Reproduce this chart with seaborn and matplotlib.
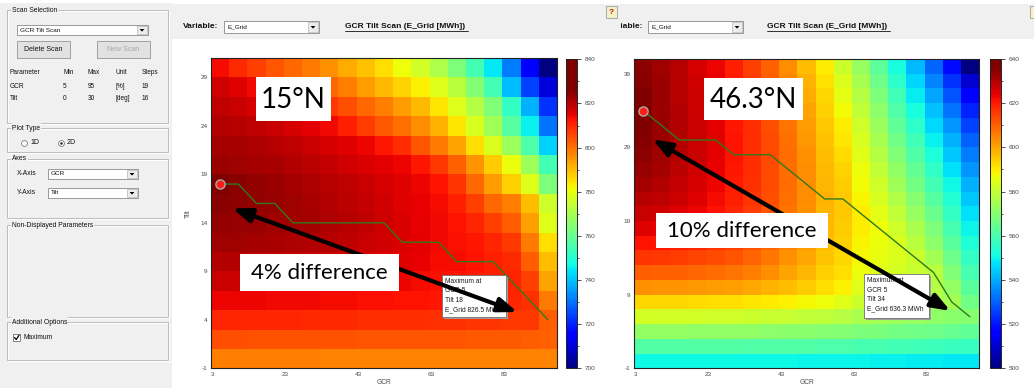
import numpy as np
import pandas as pd
import matplotlib
matplotlib.use("Agg")
import matplotlib.pyplot as plt
from matplotlib.patches import Rectangle, FancyArrowPatch, Polygon
from matplotlib.lines import Line2D
from matplotlib.transforms import Bbox
import seaborn as sns

sns.set_style("white")
plt.rcParams["font.family"] = ["Liberation Sans", "DejaVu Sans"]

# ---------------------------------------------------------------- data
gcr = [5, 10, 15, 20, 25, 30, 35, 40, 45, 50, 55, 60, 65, 70, 75, 80, 85, 90, 95]

# 15 deg N site: yearly grid energy [MWh], rows = tilt from 30 down to 0
tilt_15n = [30, 28, 26, 24, 22, 20, 18, 16, 14, 12, 10, 8, 6, 4, 2, 0]
egrid_15n = [
    [813.2, 809.4, 806.3, 803.7, 801.2, 798.7, 795.5, 792.3, 789.2, 785.4, 781.0, 776.5, 770.8, 763.3, 754.4, 744.9, 731.6, 715.2, 700.0],
    [817.6, 815.7, 813.9, 810.7, 807.5, 804.4, 801.2, 798.0, 794.2, 790.4, 786.7, 782.9, 778.4, 772.7, 764.5, 754.4, 739.2, 724.0, 710.1],
    [819.5, 818.3, 817.0, 815.4, 813.9, 810.7, 807.5, 804.4, 801.2, 798.0, 794.2, 790.4, 784.1, 778.4, 772.1, 763.9, 751.9, 738.0, 722.1],
    [820.8, 820.2, 819.3, 818.3, 817.0, 815.5, 813.9, 810.7, 806.9, 803.1, 799.9, 796.1, 791.1, 784.1, 777.2, 768.9, 757.6, 745.5, 730.4],
    [822.1, 821.7, 821.1, 820.2, 819.3, 818.3, 817.0, 815.7, 814.5, 812.0, 808.8, 803.7, 798.7, 793.0, 785.4, 777.8, 768.3, 756.3, 741.7],
    [823.3, 823.0, 822.5, 821.7, 820.8, 819.9, 818.9, 817.6, 816.4, 815.4, 814.5, 812.0, 807.5, 801.8, 794.9, 787.9, 780.3, 768.3, 754.4],
    [826.5, 825.2, 824.2, 823.3, 822.5, 821.4, 820.4, 819.4, 818.3, 817.0, 815.7, 814.5, 812.6, 808.2, 801.2, 794.2, 787.3, 778.4, 763.3],
    [825.2, 824.6, 824.5, 823.7, 822.7, 821.8, 820.8, 819.8, 818.7, 817.4, 816.1, 814.7, 813.2, 810.7, 806.3, 801.2, 798.0, 789.8, 775.9],
    [824.2, 824.0, 823.7, 823.0, 823.0, 822.2, 821.2, 820.2, 819.2, 817.9, 816.4, 815.1, 813.9, 812.6, 810.1, 806.3, 802.5, 793.6, 778.4],
    [823.0, 822.7, 822.3, 821.8, 821.4, 820.9, 820.2, 819.4, 818.5, 817.5, 816.6, 815.4, 814.1, 812.8, 811.8, 809.8, 807.5, 798.7, 785.4],
    [820.8, 820.6, 820.2, 819.8, 819.4, 818.9, 818.3, 817.6, 817.0, 816.4, 815.7, 814.7, 813.6, 813.2, 812.3, 811.1, 809.4, 802.5, 789.8],
    [818.3, 818.0, 817.8, 817.5, 817.1, 816.8, 816.4, 815.9, 815.4, 814.9, 814.2, 813.6, 812.8, 812.2, 811.6, 810.7, 810.3, 806.3, 793.0],
    [814.5, 814.4, 814.2, 814.1, 814.0, 813.9, 813.6, 813.3, 813.1, 812.8, 812.6, 812.2, 811.8, 811.3, 810.8, 810.3, 809.8, 808.5, 798.7],
    [810.1, 810.1, 809.9, 809.8, 809.7, 809.5, 809.4, 809.3, 809.2, 809.0, 808.9, 808.8, 808.5, 808.3, 808.0, 807.8, 807.5, 807.3, 802.7],
    [804.4, 804.4, 804.2, 804.1, 804.1, 804.0, 804.0, 803.9, 803.7, 803.7, 803.6, 803.5, 803.5, 803.4, 803.2, 803.1, 802.8, 802.7, 801.8],
    [798.0, 798.0, 798.0, 797.9, 797.9, 797.9, 797.8, 797.8, 797.8, 797.7, 797.7, 797.7, 797.5, 797.5, 797.5, 797.4, 797.4, 797.4, 797.4],
]
opt_tilt_15n = [18, 18, 16, 16, 14, 14, 14, 14, 14, 14, 12, 12, 12, 10, 10, 10, 8, 6, 4]
best_15n = {"gcr": 5, "tilt": 18, "egrid": 826.5}

# 46.3 deg N site, rows = tilt from 40 down to 0
tilt_46n = [40, 38, 36, 34, 32, 30, 28, 26, 24, 22, 20, 18, 16, 14, 12, 10, 8, 6, 4, 2, 0]
egrid_46n = [
    [634.4, 632.3, 629.5, 626.0, 623.2, 619.7, 614.8, 609.9, 603.6, 596.6, 589.6, 581.2, 572.8, 563.0, 551.8, 542.0, 530.8, 518.2, 500.0],
    [635.1, 632.7, 629.8, 626.4, 623.6, 620.1, 615.5, 610.7, 604.7, 598.0, 591.3, 583.6, 575.2, 565.8, 555.0, 545.5, 535.0, 523.8, 509.8],
    [635.8, 633.0, 629.9, 626.8, 624.0, 620.4, 616.2, 611.6, 605.8, 599.3, 592.8, 585.7, 577.4, 568.5, 558.1, 548.9, 538.9, 528.7, 516.1],
    [636.3, 633.1, 630.1, 627.1, 624.3, 620.7, 616.8, 612.3, 606.7, 600.4, 594.1, 587.6, 579.5, 571.0, 561.0, 552.1, 542.6, 533.0, 521.3],
    [636.1, 633.3, 630.1, 627.3, 624.5, 620.8, 617.2, 612.8, 607.4, 601.4, 595.2, 589.5, 581.5, 573.4, 563.8, 555.2, 546.1, 537.0, 525.9],
    [635.5, 633.0, 630.2, 627.4, 624.6, 621.0, 617.5, 613.3, 607.9, 602.2, 596.2, 591.0, 583.3, 575.6, 566.5, 558.1, 549.4, 540.6, 530.0],
    [634.7, 632.4, 629.9, 627.3, 624.5, 621.1, 617.6, 613.4, 608.4, 602.9, 596.9, 592.4, 585.0, 577.7, 569.2, 561.0, 552.6, 544.0, 533.7],
    [633.4, 631.6, 629.2, 626.7, 624.0, 620.8, 617.5, 613.3, 608.5, 603.3, 597.4, 593.5, 586.5, 579.7, 571.8, 564.0, 555.9, 547.2, 537.2],
    [631.9, 630.3, 628.2, 625.9, 623.3, 620.3, 617.0, 613.0, 608.4, 603.6, 597.9, 594.5, 587.8, 581.5, 574.5, 566.9, 558.9, 550.3, 540.6],
    [629.9, 628.7, 626.8, 624.6, 622.4, 619.4, 616.3, 612.4, 607.9, 603.5, 598.0, 595.2, 588.8, 583.4, 577.1, 569.9, 562.0, 553.3, 543.8],
    [627.7, 626.6, 625.0, 623.1, 621.0, 618.3, 615.4, 611.6, 607.2, 603.0, 597.9, 595.1, 589.6, 585.3, 579.5, 572.8, 565.1, 556.4, 546.9],
    [624.9, 624.0, 622.8, 621.0, 619.1, 616.8, 614.1, 610.5, 606.3, 602.3, 597.4, 594.6, 589.5, 586.8, 581.9, 575.7, 568.2, 559.5, 550.0],
    [621.2, 620.5, 619.6, 618.2, 616.6, 614.7, 612.3, 608.9, 605.0, 601.4, 596.7, 593.9, 588.9, 586.5, 584.0, 578.5, 571.3, 562.6, 553.1],
    [616.5, 615.9, 615.2, 614.2, 613.1, 611.6, 609.6, 606.7, 603.2, 599.8, 595.6, 593.0, 587.9, 585.8, 583.6, 581.2, 574.9, 565.8, 556.1],
    [610.6, 610.2, 609.8, 609.1, 608.2, 607.1, 605.7, 603.5, 600.5, 597.7, 594.1, 591.6, 586.4, 584.6, 582.6, 580.8, 578.4, 569.2, 559.4],
    [602.9, 602.6, 602.3, 601.9, 601.4, 600.7, 599.7, 598.3, 596.5, 594.4, 591.7, 589.3, 584.3, 582.6, 580.9, 579.4, 577.7, 572.1, 562.7],
    [593.1, 592.8, 592.7, 592.4, 592.0, 591.6, 591.0, 590.3, 589.3, 588.2, 586.8, 585.1, 581.2, 579.5, 578.0, 576.7, 576.3, 574.9, 566.4],
    [582.6, 582.5, 582.3, 582.2, 581.9, 581.6, 581.3, 580.9, 580.4, 579.8, 579.1, 578.1, 575.7, 574.6, 573.5, 572.5, 571.7, 570.7, 570.0],
    [572.1, 572.0, 572.0, 571.8, 571.7, 571.5, 571.4, 571.1, 570.8, 570.6, 570.1, 569.7, 568.6, 567.8, 566.9, 566.2, 565.7, 564.7, 563.7],
    [561.6, 561.6, 561.6, 561.5, 561.5, 561.3, 561.2, 561.0, 560.9, 560.8, 560.5, 560.2, 559.6, 559.2, 558.8, 558.4, 558.0, 557.4, 556.7],
    [550.4, 550.4, 550.4, 550.4, 550.4, 550.3, 550.3, 550.1, 550.1, 550.0, 549.8, 549.7, 549.6, 549.3, 549.0, 548.9, 548.7, 548.4, 548.0],
]
opt_tilt_46n = [34, 32, 30, 30, 30, 28, 28, 28, 26, 24, 22, 22, 20, 18, 16, 14, 12, 8, 6]
best_46n = {"gcr": 5, "tilt": 34, "egrid": 636.3}

gcr_ticks = [3, 23, 43, 63, 83]
gcr_minor = [13, 33, 53, 73, 93]
tilt_ticks_15n = [-1, 4, 9, 14, 19, 24, 29]
tilt_minor_15n = [1.5, 6.5, 11.5, 16.5, 21.5, 26.5]
tilt_ticks_46n = [-1, 9, 19, 29, 39]
tilt_minor_46n = [4, 14, 24, 34]
cbar_ticks_15n = [700, 720, 740, 760, 780, 800, 820, 840]
cbar_ticks_46n = [500, 520, 540, 560, 580, 600, 620, 640]

# ---------------------------------------------------------------- figure
W, H = 1034, 388
fig = plt.figure(figsize=(W / 100, H / 100), dpi=100)
fig.patch.set_facecolor("white")
FT = fig.transFigure
UI_BG = "#f0f0f0"
SLIDE_FONT = ["Lato", "DejaVu Sans"]


def fxy(x, y):
    return x / W, 1 - y / H


def frect(x0, y0, x1, y1):
    return [x0 / W, 1 - y1 / H, (x1 - x0) / W, (y1 - y0) / H]


def rect(x0, y0, x1, y1, fc, ec="none", lw=0.8, z=-1, host=None):
    r = Rectangle(fxy(x0, y1), (x1 - x0) / W, (y1 - y0) / H, transform=FT,
                  facecolor=fc, edgecolor=ec, linewidth=lw, zorder=z)
    (host or fig).add_artist(r)
    return r


def hline(x0, x1, y, color, lw=0.8, z=-1):
    fig.add_artist(Line2D([x0 / W, x1 / W], [1 - y / H, 1 - y / H], transform=FT,
                          color=color, lw=lw, zorder=z))


def txt(x, y, s, size=5, ha="left", va="center", color="#111111", host=None, **kw):
    if host is None:
        return fig.text(x / W, 1 - y / H, s, fontsize=size, ha=ha, va=va, color=color, **kw)
    return host.text(x / W, 1 - y / H, s, fontsize=size, ha=ha, va=va, color=color,
                     transform=FT, **kw)


def group(x0, y0, x1, y1, title):
    rect(x0 + 1, y0 + 1, x1 + 1, y1 + 1, "none", ec="white", lw=0.7)
    rect(x0, y0, x1, y1, "none", ec="#bcbcbc", lw=0.7)
    txt(x0 + 5, y0, title, size=4.9, bbox=dict(fc=UI_BG, ec="none", pad=0.8))


def combo(x0, y0, x1, y1, text):
    rect(x0, y0, x1, y1, "white", ec="#8a8a8a", lw=0.6, z=0)
    rect(x1 - 11, y0 + 1.2, x1 - 1.2, y1 - 1.2, "#ececec", ec="#b5b5b5", lw=0.5, z=0.5)
    cx, cy = x1 - 6, (y0 + y1) / 2
    fig.add_artist(Polygon([fxy(cx - 2.4, cy - 1.0), fxy(cx + 2.4, cy - 1.0), fxy(cx, cy + 1.6)],
                           closed=True, transform=FT, fc="black", ec="none", zorder=1))
    txt(x0 + 3, (y0 + y1) / 2, text, size=4.6)


def button(x0, y0, x1, y1, text, enabled=True):
    rect(x0, y0, x1, y1, "#e1e1e1", ec="#a0a0a0", lw=0.7, z=0)
    txt((x0 + x1) / 2, (y0 + y1) / 2, text, size=5, ha="center",
        color="#111111" if enabled else "#a8a8a8")


# ---------------------------------------------------------------- window chrome
rect(0, 3, 172, H, UI_BG, z=-2)
rect(172, 4, W, 39, UI_BG, z=-2)

group(7, 10, 168, 123, "Scan Selection")
combo(17, 25, 148, 35, "GCR Tilt Scan")
button(17, 41, 70, 58, "Delete Scan")
button(97, 41, 150, 58, "New Scan", enabled=False)
scan_cols = [10, 63, 88, 115, 142]
scan_rows = [["Parameter", "Min", "Max", "Unit", "Steps"],
             ["GCR", "5", "95", "[%]", "19"],
             ["Tilt", "0", "30", "[deg]", "16"]]
for row, y in zip(scan_rows, [72, 86, 99]):
    for s, x in zip(row, scan_cols):
        txt(x, y, s, size=4.7)

group(7, 128, 168, 152, "Plot Type")
for x, lab, on in [(24, "1D", False), (61, "2D", True)]:
    fig.add_artist(Line2D([x / W], [1 - 143 / H], marker="o", ms=4.2, mfc="white",
                          mec="#7a7a7a", mew=0.6, transform=FT, zorder=1))
    if on:
        fig.add_artist(Line2D([x / W], [1 - 143 / H], marker="o", ms=1.8, mfc="#222222",
                              mec="none", transform=FT, zorder=2))
    txt(x + 6, 143, lab, size=5)

group(7, 159, 168, 218, "Axes")
txt(17, 174, "X-Axis", size=4.9)
combo(48, 169, 138, 179, "GCR")
txt(17, 192, "Y-Axis", size=4.9)
combo(48, 188, 138, 198, "Tilt")

group(7, 225, 168, 317, "Non-Displayed Parameters")

group(7, 322, 168, 360, "Additional Options")
rect(13, 334, 20, 341, "white", ec="#6f6f6f", lw=0.6, z=0)
fig.add_artist(Line2D([14.5 / W, 16.3 / W, 19 / W], [1 - 337.5 / H, 1 - 339.5 / H, 1 - 335.2 / H],
                      transform=FT, color="black", lw=0.9, zorder=1))
txt(23, 337.5, "Maximum", size=4.9)

# top bar of each scan window
txt(183, 27, "Variable:", size=6, weight="bold")
combo(224, 21, 319, 33, "E_Grid")
txt(345, 27, "GCR Tilt Scan (E_Grid [MWh])", size=6, weight="bold")
hline(345, 468, 31.2, "#111111", lw=0.6, z=1)

# help buttons (the second one runs off the right edge)
rect(606, 6, 617, 18, "#f6f2c8", ec="#9c9c9c", lw=0.6, z=0)
txt(611.5, 12, "?", size=6, ha="center", color="#d01010", weight="bold")
rect(1030, 6, 1041, 18, "#f6f2c8", ec="#9c9c9c", lw=0.6, z=0)

cut = txt(643, 27, "Variable:", size=6, weight="bold", ha="right")
cut.set_clip_box(Bbox.from_extents(621, 0, W, H))
cut.set_clip_on(True)
combo(648, 21, 743, 33, "E_Grid")
txt(767, 27, "GCR Tilt Scan (E_Grid [MWh])", size=6, weight="bold")
hline(767, 890, 31.2, "#111111", lw=0.6, z=1)


# ---------------------------------------------------------------- scan maps
def gx(g):
    return (g - gcr[0]) / (gcr[1] - gcr[0]) + 0.5


def ty(t, tilts):
    return (tilts[0] - t) / (tilts[0] - tilts[1]) + 0.5


def draw_scan(ax, cax, values, tilts, opt_tilt, best, cb_ticks, tilt_ticks, tilt_minor,
              show_ylabel=True):
    df = pd.DataFrame(values, index=tilts, columns=gcr)
    lo, hi = float(df.values.min()), float(df.values.max())
    sns.heatmap(df, ax=ax, cbar_ax=cax, cmap="jet", vmin=lo, vmax=hi,
                xticklabels=False, yticklabels=False,
                cbar_kws={"boundaries": np.linspace(cb_ticks[0], cb_ticks[-1], 561),
                          "ticks": cb_ticks})
    for s in ax.spines.values():
        s.set_visible(True)
        s.set_color("#222222")
        s.set_linewidth(0.8)
    ax.set_xticks([gx(g) for g in gcr_ticks])
    ax.set_xticklabels([str(g) for g in gcr_ticks])
    ax.set_xticks([gx(g) for g in gcr_minor], minor=True)
    ax.set_yticks([ty(t, tilts) for t in tilt_ticks])
    ax.set_yticklabels([str(t) for t in tilt_ticks], rotation=0)
    ax.set_yticks([ty(t, tilts) for t in tilt_minor], minor=True)
    ax.tick_params(which="both", direction="in", top=True, right=True, bottom=True, left=True,
                   color="#333333", width=0.6, labelsize=4.6, labelcolor="#4a4a4a", pad=2.5)
    ax.tick_params(which="major", length=3)
    ax.tick_params(which="minor", length=2)
    ax.set_xlabel("GCR", fontsize=4.8, color="#4a4a4a", labelpad=1.5)
    ax.set_ylabel("Tilt" if show_ylabel else "", fontsize=4.8, color="#4a4a4a", labelpad=6)

    cb = ax.collections[0].colorbar
    cb.outline.set_linewidth(0.7)
    cb.outline.set_edgecolor("#222222")
    cb.set_ticks(cb_ticks)
    cb.set_ticklabels([str(v) for v in cb_ticks])
    cax.set_yticks([v + (cb_ticks[1] - cb_ticks[0]) / 2 for v in cb_ticks[:-1]], minor=True)
    cax.tick_params(which="both", direction="out", right=True, left=False, color="#333333",
                    width=0.6, labelsize=4.6, labelcolor="#4a4a4a", pad=2.5)
    cax.tick_params(which="major", length=3)
    cax.tick_params(which="minor", length=1.6)

    # optimum tilt for each GCR and the overall maximum
    ax.plot([gx(g) for g in gcr], [ty(t, tilts) for t in opt_tilt], color="#2f7a1c",
            lw=1.0, zorder=3)
    ax.plot([gx(best["gcr"])], [ty(best["tilt"], tilts)], marker="o", ms=6.6,
            mfc="#ff1c14", mec="#a9a9a9", mew=1.0, zorder=4, clip_on=False)


ax1 = fig.add_axes(frect(211, 58, 557, 368.3))
cax1 = fig.add_axes(frect(566, 59.3, 577, 368.3))
draw_scan(ax1, cax1, egrid_15n, tilt_15n, opt_tilt_15n, best_15n, cbar_ticks_15n,
          tilt_ticks_15n, tilt_minor_15n)

ax2 = fig.add_axes(frect(634, 59, 979, 368.3))
cax2 = fig.add_axes(frect(990, 59, 1001, 368.3))
draw_scan(ax2, cax2, egrid_46n, tilt_46n, opt_tilt_46n, best_46n, cbar_ticks_46n,
          tilt_ticks_46n, tilt_minor_46n, show_ylabel=False)


def info_box(ax, x0, y0, x1, y1, best):
    rect(x0 + 1.5, y0 + 1.5, x1 + 1.5, y1 + 1.5, "#9d9d9d", z=4.4, host=ax)
    rect(x0, y0, x1, y1, "white", ec="#707070", lw=0.6, z=4.5, host=ax)
    lines = ["Maximum at", f"GCR {best['gcr']}", f"Tilt {best['tilt']}",
             f"E_Grid {best['egrid']:.1f} MWh"]
    for i, s in enumerate(lines):
        txt(x0 + 3, y0 + 6.8 + 9.2 * i, s, size=4.8, color="#1a1a1a", host=ax, zorder=4.6)


def span_arrow(ax, tilts, g0, t0, g1, t1):
    arr = FancyArrowPatch((gx(g0), ty(t0, tilts)), (gx(g1), ty(t1, tilts)),
                          arrowstyle="<|-|>,head_length=0.95,head_width=0.36",
                          mutation_scale=12, lw=3.0, color="black",
                          shrinkA=0, shrinkB=0, zorder=5, clip_on=False)
    ax.add_patch(arr)


info_box(ax1, 442, 275, 506, 317, best_15n)
span_arrow(ax1, tilt_15n, 8.4, 15.5, 86.6, 4.8)
info_box(ax2, 864, 274, 929, 318, best_46n)
span_arrow(ax2, tilt_46n, 7.6, 30.1, 89.6, 6.8)


def slide_label(x0, y0, x1, y1, s, size):
    rect(x0, y0, x1, y1, "white", z=10)
    txt((x0 + x1) / 2, (y0 + y1) / 2 + 0.5, s, size=size, ha="center", color="black",
        family=SLIDE_FONT, zorder=11)


slide_label(256, 77, 331, 121, "15°N", 20)
slide_label(240, 254, 399, 291, "4% difference", 16)
slide_label(704, 78, 803, 120, "46.3°N", 20)
slide_label(656, 213, 828, 248, "10% difference", 16)

fig.savefig("out.png", dpi=100)
